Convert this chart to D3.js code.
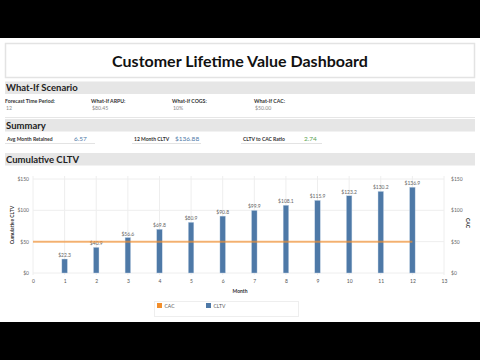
<!DOCTYPE html>
<html>
<head>
<meta charset="utf-8">
<script src="https://cdn.jsdelivr.net/npm/d3@7"></script>
<style>
  body { margin: 0; background: #000; }
  svg { display: block; font-family: Lato, "Open Sans", sans-serif; }
</style>
</head>
<body>
<div id="root"></div>
<script>
const months = [1, 2, 3, 4, 5, 6, 7, 8, 9, 10, 11, 12];
const cltv = [22.3, 40.9, 56.6, 69.8, 80.9, 90.8, 99.9, 108.1, 115.9, 123.2, 130.2, 136.9];
const cac = 50;
const xTicks = d3.range(0, 14);
const yTicks = [0, 50, 100, 150];

const whatIfLabels = ["Forecast Time Period:", "What-If ARPU:", "What-If COGS:", "What-If CAC:"];
const whatIfValues = ["12", "$80.45", "10%", "$50.00"];
const summaryLabels = ["Avg Month Retained", "12 Month CLTV", "CLTV to CAC Ratio"];
const summaryValues = ["6.57", "$136.88", "2.74"];

const width = 480;
const height = 360;
const blue = "#4e79a7";
const orange = "#f28e2b";

const svg = d3.select("#root")
  .append("svg")
  .attr("width", width)
  .attr("height", height);

// white page between the letterbox bars
svg.append("rect").attr("x", 0).attr("y", 38).attr("width", width).attr("height", 284).attr("fill", "#fff");

// title box
svg.append("rect")
  .attr("x", 5.5).attr("y", 43.5).attr("width", 469).attr("height", 34)
  .attr("fill", "#fff").attr("stroke", "#e3e3e3").attr("stroke-width", 1.5);
svg.append("text")
  .attr("x", 240).attr("y", 66.5)
  .attr("text-anchor", "middle")
  .style("font-size", "16px").style("font-weight", 700)
  .attr("fill", "#111")
  .text("Customer Lifetime Value Dashboard");

function band(y, label) {
  svg.append("rect").attr("x", 5).attr("y", y).attr("width", 470).attr("height", 12.5).attr("fill", "#e6e6e6");
  svg.append("text")
    .attr("x", 6).attr("y", y + 9.5)
    .style("font-size", "9.5px").style("font-weight", 700)
    .attr("fill", "#222")
    .text(label);
}

band(81.5, "What-If Scenario");
band(119, "Summary");
band(153, "Cumulative CLTV");

// what-if parameters
const whatIfX = [5, 91, 172, 254];
whatIfLabels.forEach((l, i) => {
  svg.append("text").attr("x", whatIfX[i]).attr("y", 102.5)
    .style("font-size", "5.2px").style("font-weight", 700).attr("fill", "#333").text(l);
  svg.append("text").attr("x", whatIfX[i] + 1).attr("y", 109.5)
    .style("font-size", "5.2px").attr("fill", "#888").text(whatIfValues[i]);
});
svg.append("line").attr("x1", 5).attr("x2", 475).attr("y1", 117.5).attr("y2", 117.5)
  .attr("stroke", "#e6e6e6");

// summary tiles
const sumX = [7, 134, 243];
const sumValX = [74, 175, 304];
const sumEnd = [95, 201, 322];
const sumColor = ["#4e79a7", "#4e79a7", "#59a14f"];
summaryLabels.forEach((l, i) => {
  svg.append("text").attr("x", sumX[i]).attr("y", 140.5)
    .style("font-size", "5px").style("font-weight", 700).attr("fill", "#333").text(l);
  svg.append("text").attr("x", sumValX[i]).attr("y", 140.5)
    .style("font-size", "6.5px").attr("fill", sumColor[i]).text(summaryValues[i]);
  svg.append("line").attr("x1", sumX[i] - 2).attr("x2", sumEnd[i]).attr("y1", 143.5).attr("y2", 143.5)
    .attr("stroke", "#e3e3e3");
});

// chart
const xScale = d3.scaleLinear().domain([0, 13]).range([33, 444]);
const yScale = d3.scaleLinear().domain([0, 150]).range([273, 179]);
const plotTop = 176;
const plotBottom = 275;

const grid = svg.append("g");
grid.selectAll(".vg").data(xTicks).join("line")
  .attr("x1", d => xScale(d)).attr("x2", d => xScale(d))
  .attr("y1", plotTop).attr("y2", plotBottom)
  .attr("stroke", "#eeeeee");
grid.selectAll(".hg").data(yTicks).join("line")
  .attr("x1", xScale(0)).attr("x2", xScale(13))
  .attr("y1", d => yScale(d)).attr("y2", d => yScale(d))
  .attr("stroke", "#eeeeee");

const fmt = d => "$" + d;

const leftAxis = d3.axisLeft(yScale).tickValues(yTicks).tickFormat(fmt).tickSize(0).tickPadding(4);
svg.append("g").attr("transform", `translate(${xScale(0)},0)`).call(leftAxis)
  .call(g => g.select(".domain").remove())
  .selectAll("text").style("font-size", "5px").attr("fill", "#666").style("font-family", "Lato, sans-serif");

const rightAxis = d3.axisRight(yScale).tickValues(yTicks).tickFormat(fmt).tickSize(0).tickPadding(7);
svg.append("g").attr("transform", `translate(${xScale(13)},0)`).call(rightAxis)
  .call(g => g.select(".domain").remove())
  .selectAll("text").style("font-size", "5px").attr("fill", "#666").style("font-family", "Lato, sans-serif");

const bottomAxis = d3.axisBottom(xScale).tickValues(xTicks).tickFormat(d3.format("d")).tickSize(0).tickPadding(4);
svg.append("g").attr("transform", `translate(0,${plotBottom})`).call(bottomAxis)
  .call(g => g.select(".domain").remove())
  .selectAll("text").style("font-size", "5px").attr("fill", "#555").style("font-family", "Lato, sans-serif");

svg.append("text").attr("x", 240).attr("y", 292.5).attr("text-anchor", "middle")
  .style("font-size", "5px").style("font-weight", 700).attr("fill", "#333").text("Month");
svg.append("text").attr("transform", "translate(14,225) rotate(-90)").attr("text-anchor", "middle")
  .style("font-size", "5px").style("font-weight", 700).attr("fill", "#333").text("Cumulative CLTV");
svg.append("text").attr("transform", "translate(466,223) rotate(90)").attr("text-anchor", "middle")
  .style("font-size", "5px").style("font-weight", 700).attr("fill", "#333").text("CAC");

// bars
const barW = 5.5;
svg.append("g").selectAll("rect").data(months).join("rect")
  .attr("x", (d) => xScale(d) - barW / 2)
  .attr("width", barW)
  .attr("y", (d, i) => yScale(cltv[i]))
  .attr("height", (d, i) => yScale(0) - yScale(cltv[i]))
  .attr("fill", blue)
  .attr("stroke", "#c6d6e8").attr("stroke-width", 0.4);

svg.append("g").selectAll("text").data(months).join("text")
  .attr("x", (d) => xScale(d))
  .attr("y", (d, i) => yScale(cltv[i]) - 2)
  .attr("text-anchor", "middle")
  .style("font-size", "5px").attr("fill", "#666")
  .text((d, i) => "$" + cltv[i].toFixed(1));

// CAC line
const line = d3.line().x(d => xScale(d)).y(() => yScale(cac));
svg.append("path").datum([0, 12])
  .attr("d", line)
  .attr("stroke", orange).attr("stroke-opacity", 0.65).attr("stroke-width", 2).attr("fill", "none");

// legend
svg.append("rect").attr("x", 154.5).attr("y", 301.5).attr("width", 144).attr("height", 15)
  .attr("fill", "#fff").attr("stroke", "#eeeeee");
const legend = [["CAC", orange], ["CLTV", blue]];
legend.forEach(([k, c], i) => {
  const lx = 157 + i * 49;
  svg.append("rect").attr("x", lx).attr("y", 303).attr("width", 5).attr("height", 5).attr("fill", c);
  svg.append("text").attr("x", lx + 7.5).attr("y", 307.5)
    .style("font-size", "5px").attr("fill", "#555").text(k);
});
</script>
</body>
</html>
